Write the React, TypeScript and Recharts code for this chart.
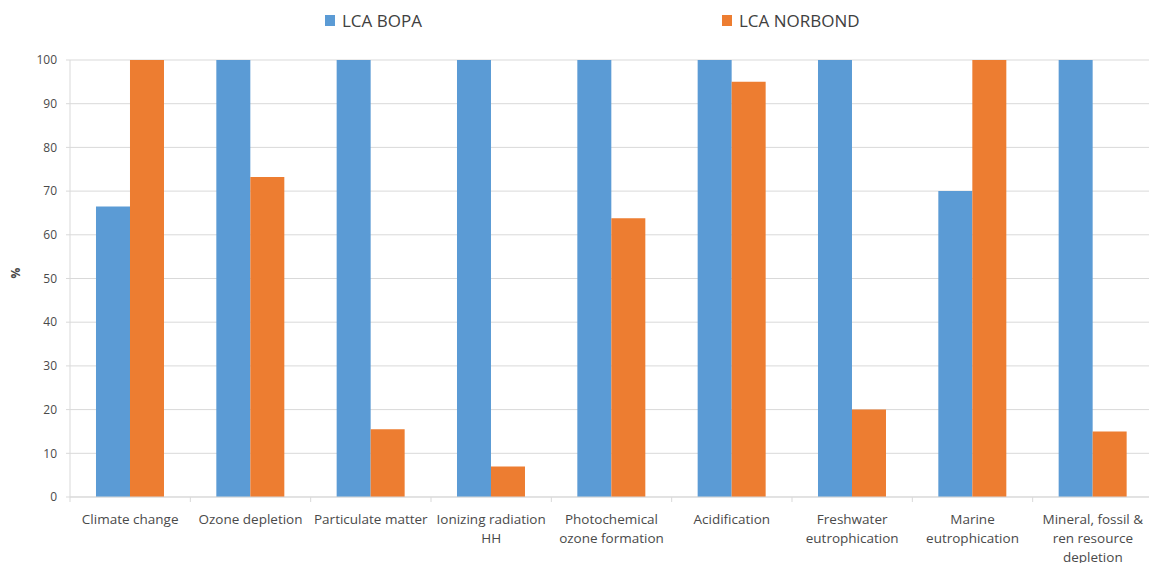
import { BarChart, Bar, XAxis, YAxis, CartesianGrid, Legend } from 'recharts';

const categories = [
    'Climate change',
    'Ozone depletion',
    'Particulate matter',
    'Ionizing radiation\nHH',
    'Photochemical\nozone formation',
    'Acidification',
    'Freshwater\neutrophication',
    'Marine\neutrophication',
    'Mineral, fossil &\nren resource\ndepletion'
];
const bopaValues = [66.5, 100, 100, 100, 100, 100, 100, 70, 100];
const norbondValues = [100, 73.2, 15.5, 7, 63.8, 95, 20, 100, 15];
const yTicks = [0, 10, 20, 30, 40, 50, 60, 70, 80, 90, 100];

const data = categories.map((name, i) => ({ name, bopa: bopaValues[i], norbond: norbondValues[i] }));

const WIDTH = 1157;
const HEIGHT = 571;
const LEGEND_H = 24;
const MARGIN = { top: 60 - LEGEND_H, right: 4, left: 0, bottom: 0 };
const Y_AXIS_WIDTH = 70;
const BAND = (WIDTH - Y_AXIS_WIDTH - MARGIN.right) / categories.length;
const FONT = '"Open Sans", sans-serif';
const TEXT = '#4a4a4a';

function CategoryTick(props: any) {
    const { x, y, payload, index } = props;
    const lines = String(payload.value).split('\n');
    return (
        <g>
            <line x1={x - BAND / 2} x2={x - BAND / 2} y1={y} y2={y + 5} stroke="#d9d9d9" />
            {index === categories.length - 1 && (
                <line x1={x + BAND / 2} x2={x + BAND / 2} y1={y} y2={y + 5} stroke="#d9d9d9" />
            )}
            <text x={x} y={y + 27} textAnchor="middle" fill={TEXT} fontSize={13.5} fontFamily={FONT}>
                {lines.map((l, i) => (
                    <tspan key={i} x={x} dy={i === 0 ? 0 : 19}>{l}</tspan>
                ))}
            </text>
        </g>
    );
}

function renderLegend() {
    const items = [
        { label: 'LCA BOPA', color: '#5b9bd5', left: 325 },
        { label: 'LCA NORBOND', color: '#ed7d31', left: 722 }
    ];
    return (
        <div style={{ position: 'relative', height: LEGEND_H, fontFamily: FONT, fontSize: 17, color: '#404040' }}>
            {items.map((it) => (
                <div key={it.label} style={{ position: 'absolute', left: it.left, top: 0, display: 'flex', alignItems: 'center' }}>
                    <span style={{ display: 'inline-block', width: 10, height: 11, background: it.color, marginRight: 7 }} />
                    <span>{it.label}</span>
                </div>
            ))}
        </div>
    );
}

export default function App() {
    return (
        <div style={{ margin: -8, width: WIDTH, height: HEIGHT, background: '#fff' }}>
            <BarChart width={WIDTH} height={HEIGHT} data={data} margin={MARGIN} barCategoryGap="21.6%" barGap={0}>
                <CartesianGrid vertical={false} stroke="#d9d9d9" />
                <Legend verticalAlign="top" content={renderLegend} wrapperStyle={{ top: 9, left: 0, width: WIDTH, height: LEGEND_H }} />
                <XAxis
                    dataKey="name"
                    interval={0}
                    tickLine={false}
                    tickSize={0}
                    tickMargin={0}
                    height={74}
                    stroke="#d9d9d9"
                    tick={<CategoryTick />}
                />
                <YAxis
                    width={Y_AXIS_WIDTH}
                    domain={[0, 100]}
                    ticks={yTicks}
                    tickSize={4}
                    tickMargin={9}
                    stroke="#d9d9d9"
                    tick={{ fill: TEXT, fontSize: 12, fontFamily: FONT }}
                    label={{ value: '%', angle: -90, position: 'insideLeft', offset: 16, fill: TEXT, fontSize: 12, fontWeight: 'bold', fontFamily: FONT }}
                />
                <Bar dataKey="bopa" name="LCA BOPA" fill="#5b9bd5" isAnimationActive={false} />
                <Bar dataKey="norbond" name="LCA NORBOND" fill="#ed7d31" isAnimationActive={false} />
            </BarChart>
        </div>
    );
}
